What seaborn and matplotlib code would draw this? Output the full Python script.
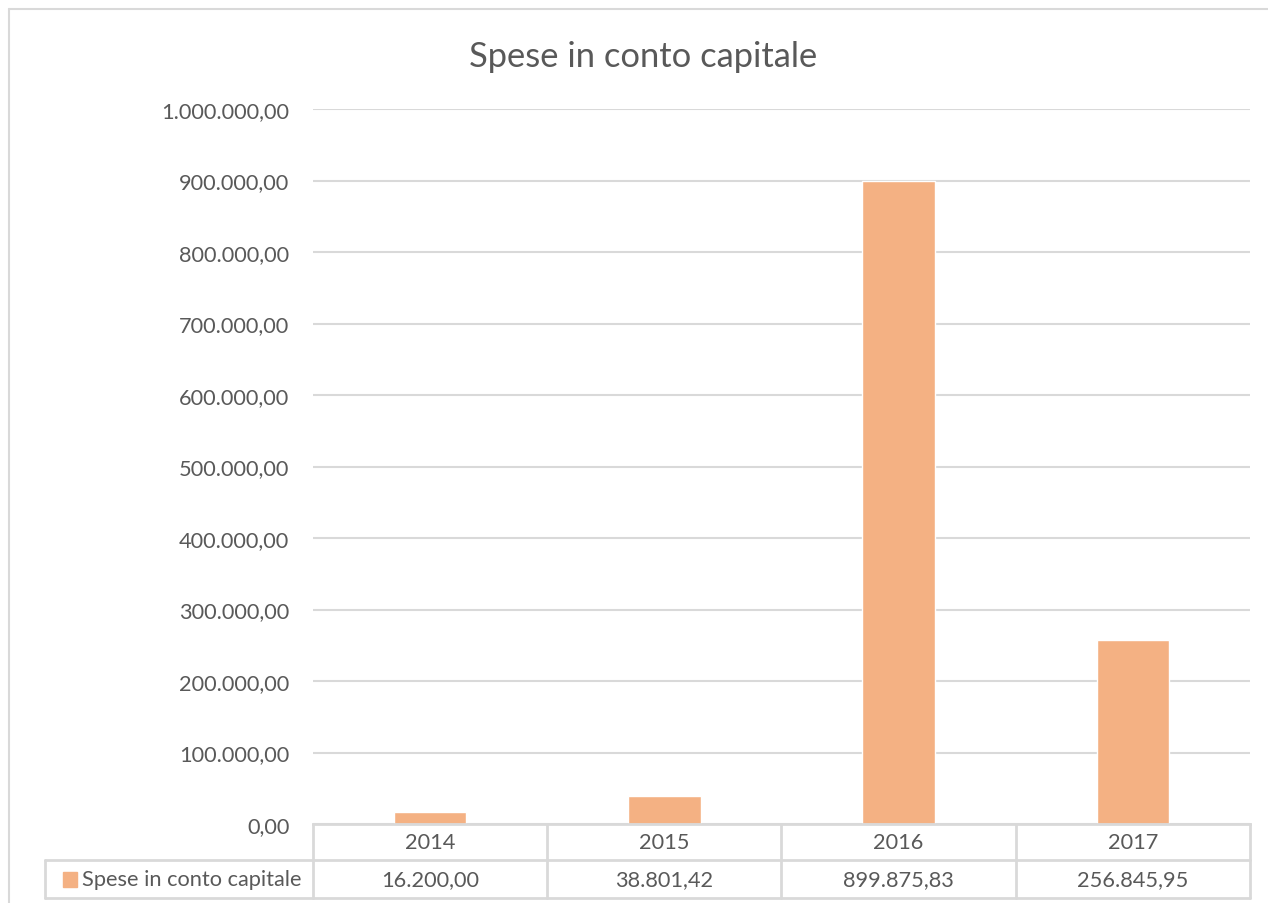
import matplotlib
matplotlib.use("Agg")
import matplotlib.pyplot as plt
from matplotlib.ticker import FuncFormatter, MultipleLocator
from matplotlib.patches import Rectangle
import seaborn as sns
import pandas as pd

years = ["2014", "2015", "2016", "2017"]
values = [16200.00, 38801.42, 899875.83, 256845.95]
series_name = "Spese in conto capitale"
title = "Spese in conto capitale"

BAR = "#F4B183"
TXT = "#595959"
GRID = "#D9D9D9"
FS = 15.7

sns.set_theme(style="white")
plt.rcParams["font.family"] = ["Lato", "DejaVu Sans"]

W, H = 1268, 904
fig = plt.figure(figsize=(W / 100, H / 100), dpi=100)
fig.patch.set_facecolor("white")

x0, x1, ytop, ybot = 313, 1250, 110, 825
ax = fig.add_axes([x0 / W, 1 - ybot / H, (x1 - x0) / W, (ybot - ytop) / H])

df = pd.DataFrame({"year": years, "value": values})
sns.barplot(data=df, x="year", y="value", color=BAR, saturation=1, width=0.31, ax=ax)

def itfmt(v, pos=None):
    s = f"{v:,.2f}"
    return s.replace(",", "X").replace(".", ",").replace("X", ".")

ax.set_ylim(0, 1000000)
ax.set_xlim(-0.5, len(years) - 0.5)
ax.yaxis.set_major_locator(MultipleLocator(100000))
ax.yaxis.set_major_formatter(FuncFormatter(itfmt))
ax.grid(axis="y", color=GRID, linewidth=1.5)
ax.set_axisbelow(True)
for s in ["left", "right", "top"]:
    ax.spines[s].set_visible(False)
ax.spines["bottom"].set_color(GRID)
ax.spines["bottom"].set_linewidth(2)
ax.tick_params(axis="y", length=0, pad=17, labelsize=FS, labelcolor=TXT)
ax.tick_params(axis="x", length=0, labelbottom=False)
ax.set_xlabel("")
ax.set_ylabel("")

fig.text(643 / W, 1 - 57 / H, title, ha="center", va="center", fontsize=24.8, color=TXT)

def fx(px):
    return px / W
def fy(py):
    return 1 - py / H

lw = 2
col_edges = [313, 547, 781, 1016, 1250]
r0, r1, r2 = 825, 861, 899
lab_left = 45
lines = []
lines.append(((lab_left, r1), (1250, r1)))
lines.append(((lab_left, r2), (1250, r2)))
for cx in col_edges:
    lines.append(((cx, r0), (cx, r2)))
lines.append(((lab_left, r1), (lab_left, r2)))
for (a, b) in lines:
    fig.add_artist(plt.Line2D([fx(a[0]), fx(b[0])], [fy(a[1]), fy(b[1])],
                              color=GRID, linewidth=lw, transform=fig.transFigure))

for i, y in enumerate(years):
    cxm = (col_edges[i] + col_edges[i + 1]) / 2
    fig.text(fx(cxm), fy((r0 + r1) / 2), y, ha="center", va="center", fontsize=FS, color=TXT)
    fig.text(fx(cxm), fy((r1 + r2) / 2), itfmt(values[i]), ha="center", va="center", fontsize=FS, color=TXT)

fig.add_artist(Rectangle((fx(63), fy(888)), 14 / W, 15 / H, color=BAR, transform=fig.transFigure))
fig.text(fx(82), fy((r1 + r2) / 2), series_name, ha="left", va="center", fontsize=FS, color=TXT)

fig.add_artist(plt.Line2D([fx(9), fx(9)], [fy(10), 0], color=GRID, linewidth=1.5, transform=fig.transFigure))
fig.add_artist(plt.Line2D([fx(9), 1], [fy(10), fy(10)], color=GRID, linewidth=1.5, transform=fig.transFigure))

fig.savefig("out.png", dpi=100, facecolor="white")
